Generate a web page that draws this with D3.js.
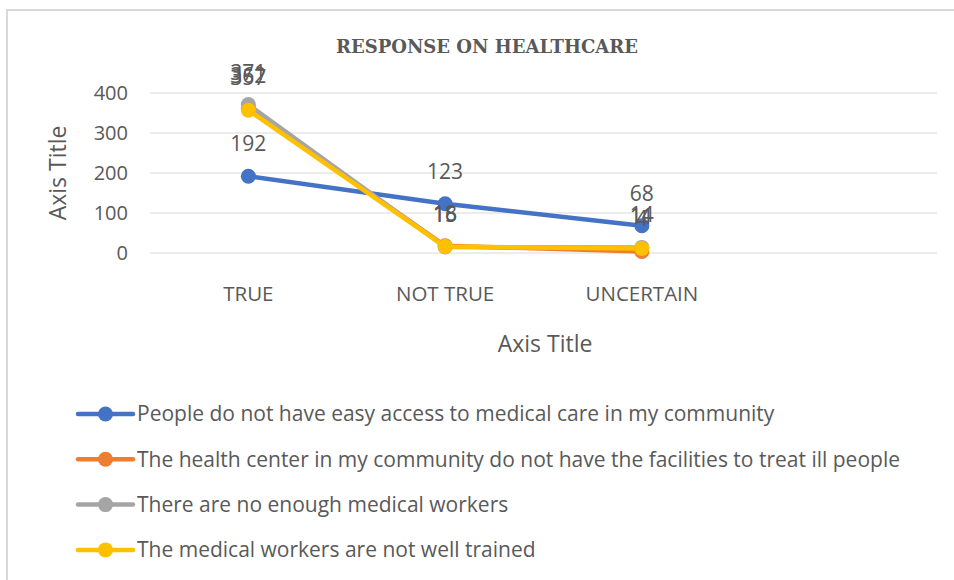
<!DOCTYPE html>
<html>
<head>
<meta charset="utf-8">
<script src="https://cdn.jsdelivr.net/npm/d3@7"></script>
<style>
  body { margin: 0; background: #fff; }
  text { font-family: "Open Sans", "Liberation Sans", sans-serif; fill: #595959; }
</style>
</head>
<body>
<script>
var categories = ["TRUE", "NOT TRUE", "UNCERTAIN", ""];
var seriesNames = [
  "People do not have easy access to medical care in my community",
  "The health center in my community do not have the facilities to treat ill people",
  "There are no enough medical workers",
  "The medical workers are not well trained"
];
var access = [192, 123, 68];
var facilities = [362, 18, 4];
var workers = [371, 15, 14];
var trained = [357, 16, 11];
var yTicks = [0, 100, 200, 300, 400];
var colors = ["#4472c4", "#ed7d31", "#a5a5a5", "#ffc000"];

var main = function() {
  var width = 954, height = 580;
  var margin = {top: 93, left: 150, right: 17, bottom: 327};

  var svg = d3.select("body").append("svg")
    .attr("width", width)
    .attr("height", height);

  // chart frame
  svg.append("path")
    .attr("d", "M7,580 V10 H954")
    .attr("fill", "none")
    .attr("stroke", "#d9d9d9")
    .attr("stroke-width", 2);

  var x = d3.scaleBand()
    .domain(categories)
    .range([margin.left, width - margin.right]);

  var y = d3.scaleLinear()
    .domain([0, 400])
    .range([height - margin.bottom, margin.top]);

  // gridlines
  svg.append("g").selectAll("line")
    .data(yTicks)
    .enter()
    .append("line")
    .attr("x1", margin.left)
    .attr("x2", width - margin.right)
    .attr("y1", function(d) { return y(d); })
    .attr("y2", function(d) { return y(d); })
    .attr("stroke", "#d9d9d9")
    .attr("stroke-width", 1);

  var yAxis = svg.append("g")
    .attr("transform", "translate(" + (margin.left - 22) + ",0)")
    .call(d3.axisLeft(y).tickValues(yTicks).tickSize(0).tickPadding(0));
  yAxis.select(".domain").remove();
  yAxis.selectAll("text")
    .style("font-size", "20px")
    .attr("fill", "#595959");

  var xAxis = svg.append("g")
    .attr("transform", "translate(0," + (y(0) + 33) + ")")
    .call(d3.axisBottom(x).tickSize(0).tickPadding(0));
  xAxis.select(".domain").remove();
  xAxis.selectAll("text")
    .style("font-size", "20.5px")
    .attr("fill", "#595959");

  svg.append("text")
    .attr("x", 487)
    .attr("y", 53)
    .attr("text-anchor", "middle")
    .style("font-family", "'DejaVu Serif', serif")
    .style("font-size", "18px")
    .style("font-weight", "bold")
    .attr("fill", "#7f7f7f")
    .text("RESPONSE ON HEALTHCARE");

  svg.append("text")
    .attr("x", 545)
    .attr("y", 352)
    .attr("text-anchor", "middle")
    .style("font-size", "23px")
    .text("Axis Title");

  svg.append("text")
    .attr("transform", "translate(66,173) rotate(-90)")
    .attr("text-anchor", "middle")
    .style("font-size", "23px")
    .text("Axis Title");

  var allSeries = [access, facilities, workers, trained];
  var line = d3.line()
    .x(function(d, i) { return x(categories[i]) + x.bandwidth() / 2; })
    .y(function(d) { return y(d); });

  allSeries.forEach(function(vals, s) {
    var g = svg.append("g");
    g.append("path")
      .attr("d", line(vals))
      .attr("fill", "none")
      .attr("stroke", colors[s])
      .attr("stroke-width", 4.5)
      .attr("stroke-linejoin", "round");
    g.selectAll("circle")
      .data(vals)
      .enter()
      .append("circle")
      .attr("cx", function(d, i) { return x(categories[i]) + x.bandwidth() / 2; })
      .attr("cy", function(d) { return y(d); })
      .attr("r", 7.5)
      .attr("fill", colors[s]);
  });

  // data labels
  allSeries.forEach(function(vals, s) {
    svg.append("g").selectAll("text")
      .data(vals)
      .enter()
      .append("text")
      .attr("x", function(d, i) { return x(categories[i]) + x.bandwidth() / 2; })
      .attr("y", function(d) { return y(d) - 25; })
      .attr("text-anchor", "middle")
      .style("font-size", "21px")
      .attr("fill", "#404040")
      .text(function(d) { return d; });
  });

  // legend
  var legend = svg.append("g").selectAll("g")
    .data(seriesNames)
    .enter()
    .append("g")
    .attr("transform", function(d, i) { return "translate(78," + (414 + i * 45.3) + ")"; });
  legend.append("line")
    .attr("x1", 0).attr("x2", 55)
    .attr("stroke", function(d, i) { return colors[i]; })
    .attr("stroke-width", 4.5)
    .attr("stroke-linecap", "round");
  legend.append("circle")
    .attr("cx", 27.5)
    .attr("r", 7.5)
    .attr("fill", function(d, i) { return colors[i]; });
  legend.append("text")
    .attr("x", 59)
    .attr("dy", "0.35em")
    .style("font-size", "21px")
    .text(function(d) { return d; });
}

main();
</script>
</body>
</html>
